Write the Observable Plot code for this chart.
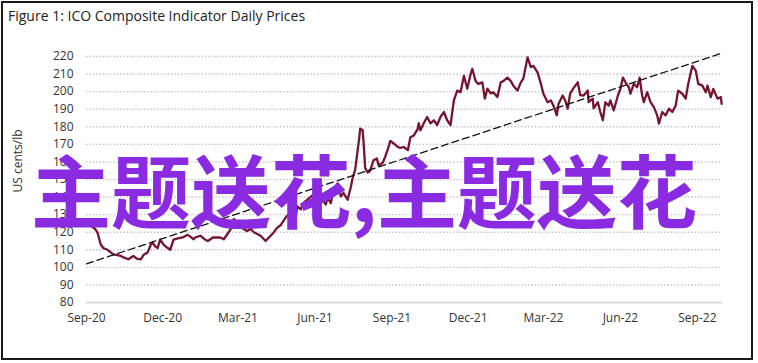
<!DOCTYPE html>
<html>
<head>
<meta charset="utf-8">
<script src="https://cdn.jsdelivr.net/npm/d3@7"></script>
<script src="https://cdn.jsdelivr.net/npm/@observablehq/plot@0.6"></script>
<style>
  html, body { margin: 0; padding: 0; background: #fff; }
  #wrap { position: relative; width: 758px; height: 363px; overflow: hidden; background: #fff; }
  #frame { position: absolute; left: 1px; top: 1px; width: 752px; height: 359px; box-sizing: border-box; border: 2px solid #1a1a1a; pointer-events: none; }
  #title { position: absolute; left: 8px; top: 6px; font-family: "Open Sans", sans-serif; font-size: 14px; color: #222; white-space: nowrap; }
  #ylabel { position: absolute; left: 17px; top: 161px; transform: translate(-50%, -50%) rotate(-90deg); font-family: "Open Sans", sans-serif; font-size: 12px; color: #333; white-space: nowrap; }
  #chart { position: absolute; left: 0; top: 0; }
  #overlay { position: absolute; left: 31px; top: 147px; font-family: "Noto Sans CJK SC", sans-serif; font-weight: bold; font-size: 80px; line-height: 80px; color: #8a2be2; white-space: nowrap; }
</style>
</head>
<body>
<div id="wrap">
  <div id="chart"></div>
  <div id="title">Figure 1: ICO Composite Indicator Daily Prices</div>
  <div id="ylabel">US cents/lb</div>
  <div id="overlay">主题送花,主题送花</div>
  <div id="frame"></div>
</div>
<script>
const dates = [
"2020-09-02","2020-09-05","2020-09-08","2020-09-11","2020-09-14","2020-09-18","2020-09-21","2020-09-26","2020-09-30",
"2020-10-03","2020-10-08","2020-10-12","2020-10-16","2020-10-21","2020-10-27","2020-10-31",
"2020-11-05","2020-11-08","2020-11-13","2020-11-17","2020-11-19","2020-11-22","2020-11-25","2020-11-28",
"2020-12-02","2020-12-07","2020-12-10","2020-12-14","2020-12-19","2020-12-25","2020-12-31",
"2021-01-03","2021-01-07","2021-01-09","2021-01-15","2021-01-20","2021-01-24","2021-01-30",
"2021-02-05","2021-02-08","2021-02-12","2021-02-15","2021-02-20","2021-02-24","2021-02-28",
"2021-03-04","2021-03-09","2021-03-12","2021-03-16","2021-03-20","2021-03-24","2021-03-28",
"2021-04-01","2021-04-03","2021-04-07","2021-04-09","2021-04-13","2021-04-15","2021-04-18","2021-04-21","2021-04-24","2021-04-28",
"2021-05-03","2021-05-06","2021-05-09","2021-05-11","2021-05-15","2021-05-18","2021-05-24","2021-05-29",
"2021-06-03","2021-06-08","2021-06-12","2021-06-14","2021-06-16","2021-06-20","2021-06-23","2021-06-28","2021-06-29",
"2021-07-02","2021-07-05","2021-07-10","2021-07-14","2021-07-16","2021-07-19","2021-07-22","2021-07-24","2021-07-25","2021-07-28","2021-07-29","2021-07-31",
"2021-08-03","2021-08-06","2021-08-10","2021-08-14","2021-08-16","2021-08-21","2021-08-24","2021-08-28","2021-08-30",
"2021-09-03","2021-09-08","2021-09-11","2021-09-15","2021-09-20","2021-09-23","2021-09-27",
"2021-10-02","2021-10-03","2021-10-05","2021-10-09","2021-10-13","2021-10-17","2021-10-21","2021-10-25","2021-10-29",
"2021-11-02","2021-11-06","2021-11-10","2021-11-14","2021-11-18","2021-11-22","2021-11-26","2021-11-30",
"2021-12-04","2021-12-06","2021-12-10","2021-12-13","2021-12-18","2021-12-21","2021-12-24","2021-12-28","2021-12-31",
"2022-01-05","2022-01-09","2022-01-12","2022-01-17","2022-01-21","2022-01-24","2022-01-29",
"2022-02-02","2022-02-05","2022-02-10","2022-02-14","2022-02-17","2022-02-22","2022-02-26",
"2022-03-01","2022-03-06","2022-03-10","2022-03-13","2022-03-17","2022-03-19","2022-03-24","2022-03-27","2022-03-30",
"2022-04-02","2022-04-06","2022-04-11","2022-04-14","2022-04-18","2022-04-23","2022-04-24","2022-04-29","2022-04-30",
"2022-05-05","2022-05-08","2022-05-11","2022-05-14","2022-05-18","2022-05-20","2022-05-24","2022-05-29",
"2022-06-01","2022-06-04","2022-06-07","2022-06-11","2022-06-13","2022-06-17","2022-06-21","2022-06-24","2022-06-27","2022-06-29",
"2022-07-03","2022-07-07","2022-07-11","2022-07-15","2022-07-17","2022-07-21","2022-07-25","2022-07-29",
"2022-08-02","2022-08-06","2022-08-09","2022-08-14","2022-08-18","2022-08-21","2022-08-26","2022-08-30",
"2022-09-02","2022-09-07","2022-09-11","2022-09-13","2022-09-17","2022-09-20","2022-09-25","2022-09-29","2022-09-30"
];
const prices = [
124.6,125,123,122,120,113,111,110,108.5,
107.4,107,106.5,105.5,104.6,106.5,105,
104.6,107,108.5,113,114,112,111,115.8,
113,111,110,115.8,116.5,117,118.5,
117.5,116,117,118,116,115,117,
117,117,116,118,121.5,127.5,126,
123,121.5,120.6,122,120,119,118,
116,115,117,118,120,121.5,123,124,126.2,129,
131,133.8,129,134.7,133,136.6,139,141,
138,140,137,135.8,139.5,136.6,144,147.8,145,
140.4,142.4,138.5,146,150.8,155.5,166.6,174,179,178,172,156.5,
154,155,161,162,158,159.5,163,168.5,172,
170.5,168.5,168,168.5,166.7,174,175,
179,182,178,182,185.6,182,183.7,181,185.6,
188.4,183.7,181,195,200.6,199.7,209,201.7,
210,213,206,204.4,205.3,196,201.7,199,199.7,
196.9,205.3,206,208,206,203.4,200.6,
205.3,207.4,219.5,214,214.7,211,204.4,
198.8,194,195,192,186.5,193,197.8,195,190.3,
199,202,205.3,198,197.8,200.6,194,196,190.5,
194,188.4,183.7,194,192,195,189.3,197.8,
201.6,208,205.3,202.5,198.8,204.4,202.5,208,197.8,194,
199.7,194,191.2,186.5,181.8,188.4,186.5,190.3,
188.4,192,200.6,198.8,196,204.4,214.7,212,
204.4,203.4,199.7,203.4,196.9,201.6,196,196.9,193
];
const trendDates = ["2020-09-01", "2022-10-01"];
const trendValues = [102, 222];
const xTickDates = ["2020-09-01","2020-12-01","2021-03-01","2021-06-01","2021-09-01","2021-12-01","2022-03-01","2022-06-01","2022-09-01"];
const yTicks = [80, 90, 100, 110, 120, 130, 140, 150, 160, 170, 180, 190, 200, 210, 220];
const xDomain = ["2020-09-01", "2022-10-01"];

const parse = d3.utcParse("%Y-%m-%d");
const priceData = dates.map((d, i) => ({date: parse(d), value: prices[i]}));
const trendData = trendDates.map((d, i) => ({date: parse(d), value: trendValues[i]}));

const chart = Plot.plot({
  width: 758,
  height: 363,
  marginTop: 56,
  marginRight: 36,
  marginBottom: 61,
  marginLeft: 86,
  style: {fontFamily: "'Open Sans', sans-serif", fontSize: "12px", color: "#333", background: "transparent", overflow: "visible"},
  x: {type: "utc", domain: xDomain.map(parse)},
  y: {domain: [80, 220]},
  marks: [
    Plot.ruleY(yTicks.filter(v => v > 80), {stroke: "#c2c2c2", strokeWidth: 1.4, strokeDasharray: "1.4,2"}),
    Plot.ruleY([80], {stroke: "#d9d9d9", strokeWidth: 2}),
    Plot.line(priceData, {x: "date", y: "value", stroke: "#741430", strokeWidth: 2.3}),
    Plot.line(trendData, {x: "date", y: "value", stroke: "#111", strokeWidth: 1.3, strokeDasharray: "7,4"}),
    Plot.axisX({ticks: xTickDates.map(parse), tickFormat: d3.utcFormat("%b-%y"), tickSize: 0, tickPadding: 11, label: null}),
    Plot.axisY({ticks: yTicks, tickSize: 0, tickPadding: 13, label: null})
  ]
});
document.getElementById("chart").appendChild(chart);
</script>
</body>
</html>
